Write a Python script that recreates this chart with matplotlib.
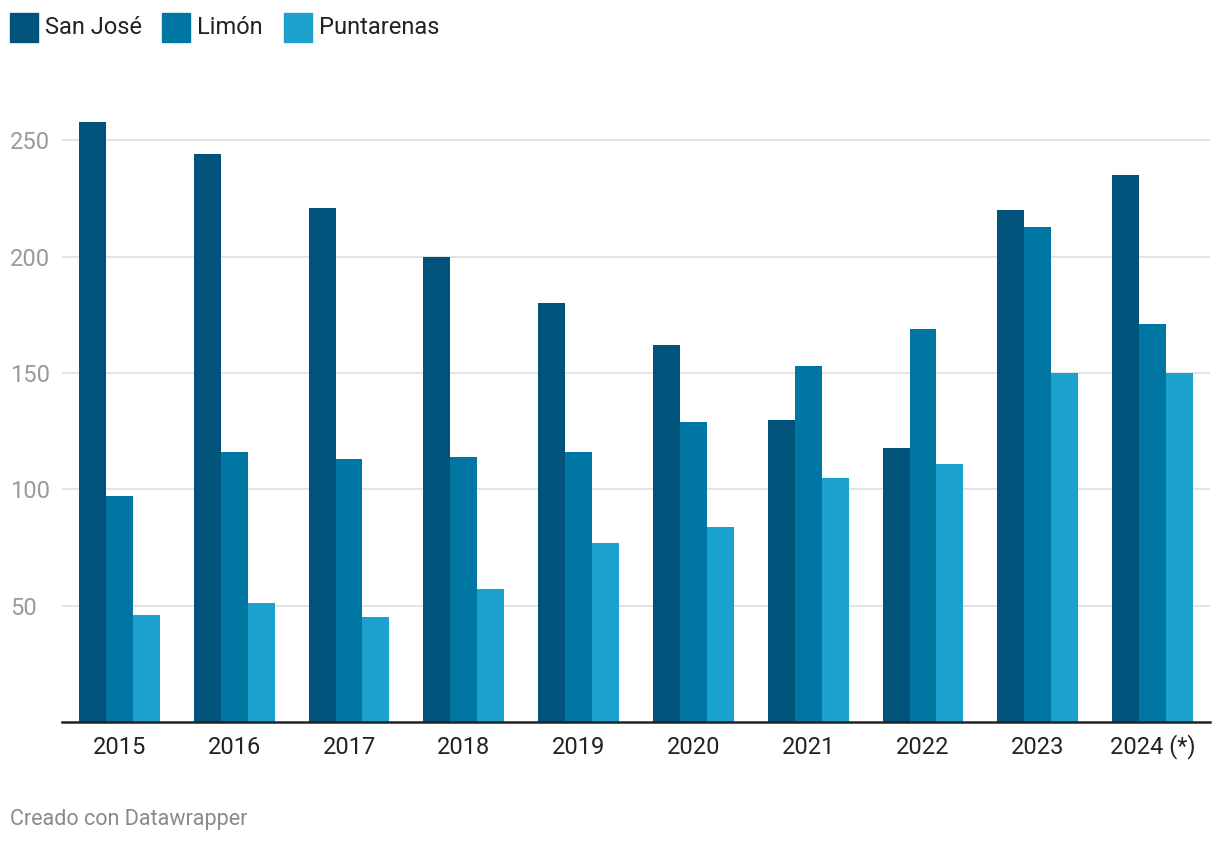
import matplotlib.pyplot as plt
import matplotlib.patches as mpatches
import numpy as np

plt.rcParams['font.family'] = ['Roboto', 'DejaVu Sans']

years = ['2015', '2016', '2017', '2018', '2019', '2020', '2021', '2022', '2023', '2024 (*)']
san_jose = [258, 244, 221, 200, 180, 162, 130, 118, 220, 235]
limon = [97, 116, 113, 114, 116, 129, 153, 169, 213, 171]
puntarenas = [46, 51, 45, 57, 77, 84, 105, 111, 150, 150]

series = ['San José', 'Limón', 'Puntarenas']
colores = ['#01537b', '#0077a3', '#1aa1cd']

fig = plt.figure(figsize=(12.2, 8.44), dpi=100)
ax = fig.add_axes([62 / 1220, 1 - 722 / 844, 1148 / 1220, (722 - 80) / 844])

x = np.arange(len(years))
w = 0.235
for i, (vals, c) in enumerate(zip([san_jose, limon, puntarenas], colores)):
    ax.bar(x + (i - 1) * w, vals, width=w, color=c, zorder=3)

ax.set_xlim(-0.5, len(years) - 0.5)
ax.set_ylim(0, 276)
ax.set_yticks([50, 100, 150, 200, 250])
ax.yaxis.grid(True, color='#e2e2e2', linewidth=1.3, zorder=0)
ax.set_yticklabels(['50', '100', '150', '200', '250'], color='#9a9a9a', fontsize=17, ha='left')
ax.tick_params(axis='y', length=0, pad=52 * 0.72)

ax.set_xticks(x)
ax.set_xticklabels(years, fontsize=17, color='#222222', va='baseline')
ax.tick_params(axis='x', length=0, pad=23)

for s in ['top', 'right', 'left']:
    ax.spines[s].set_visible(False)
ax.spines['bottom'].set_color('#222222')
ax.spines['bottom'].set_linewidth(1.8)
ax.spines['bottom'].set_zorder(4)

# leyenda arriba
for nombre, c, xpos in zip(series, colores, [10, 162, 284]):
    fig.patches.append(mpatches.Rectangle((xpos / 1220, 1 - 42 / 844), 28 / 1220, 29 / 844,
                                          color=c, transform=fig.transFigure))
    fig.text((xpos + 35) / 1220, 1 - 27 / 844, nombre, fontsize=17, color='#222222', va='center')

fig.text(10 / 1220, 1 - 819 / 844, 'Creado con Datawrapper', fontsize=15.5, color='#8a8a8a', va='center')

fig.savefig('out.png', dpi=100)
